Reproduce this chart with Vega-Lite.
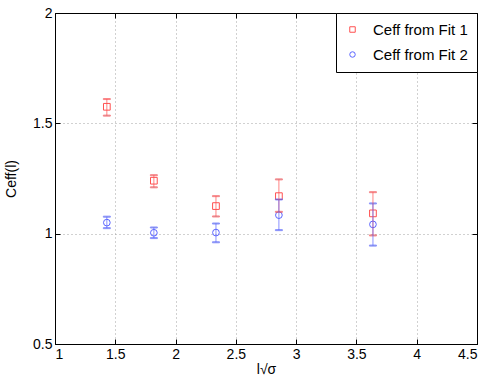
{
  "$schema": "https://vega.github.io/schema/vega-lite/v6.json",
  "width": 422,
  "height": 331,
  "autosize": {"type": "none"},
  "padding": {"left": 55, "top": 13, "right": 14, "bottom": 40},
  "config": {
    "font": "Liberation Sans",
    "view": {"stroke": "#000", "strokeWidth": 1},
    "axis": {
      "domainColor": "#000",
      "tickColor": "#000",
      "labelColor": "#000",
      "titleColor": "#000",
      "labelFontSize": 14,
      "titleFontSize": 14,
      "titleFontWeight": "normal",
      "gridColor": "#999",
      "gridDash": [1, 3],
      "gridOpacity": 0.9
    }
  },
  "data": {
    "values": [
      {"x": 1.43, "y": 1.575, "lo": 1.535, "hi": 1.61, "series": "Ceff from Fit 1"},
      {"x": 1.82, "y": 1.24, "lo": 1.21, "hi": 1.265, "series": "Ceff from Fit 1"},
      {"x": 2.335, "y": 1.125, "lo": 1.078, "hi": 1.17, "series": "Ceff from Fit 1"},
      {"x": 2.857, "y": 1.17, "lo": 1.099, "hi": 1.246, "series": "Ceff from Fit 1"},
      {"x": 3.637, "y": 1.092, "lo": 0.992, "hi": 1.188, "series": "Ceff from Fit 1"},
      {"x": 1.43, "y": 1.05, "lo": 1.025, "hi": 1.077, "series": "Ceff from Fit 2"},
      {"x": 1.82, "y": 1.004, "lo": 0.98, "hi": 1.028, "series": "Ceff from Fit 2"},
      {"x": 2.335, "y": 1.005, "lo": 0.961, "hi": 1.046, "series": "Ceff from Fit 2"},
      {"x": 2.857, "y": 1.084, "lo": 1.016, "hi": 1.155, "series": "Ceff from Fit 2"},
      {"x": 3.637, "y": 1.042, "lo": 0.946, "hi": 1.137, "series": "Ceff from Fit 2"}
    ]
  },
  "layer": [
    {
      "mark": {"type": "point", "filled": false, "strokeWidth": 1, "opacity": 1, "size": 45},
      "encoding": {
        "x": {"field": "x", "type": "quantitative", "scale": {"domain": [1, 4.5], "nice": false},
          "axis": {"orient": "bottom", "title": "l√σ", "values": [1, 1.5, 2, 2.5, 3, 3.5, 4, 4.5], "format": "~g", "tickSize": -5, "tickColor": "#000", "labelPadding": 8, "titlePadding": 1, "grid": true}},
        "y": {"field": "y", "type": "quantitative", "scale": {"domain": [0.5, 2], "nice": false},
          "axis": {"orient": "left", "title": "Ceff(l)", "values": [0.5, 1, 1.5, 2], "format": "~g", "tickSize": -5, "tickColor": "#000", "labelPadding": 8, "titlePadding": 14, "grid": true}},
        "color": {"field": "series", "type": "nominal", "scale": {"domain": ["Ceff from Fit 1", "Ceff from Fit 2"], "range": ["#ff5050", "#5a64ff"]},
          "legend": {"orient": "top-right", "offset": 0, "title": null, "strokeColor": "#000", "fillColor": "#fff", "padding": 9, "labelFontSize": 15, "labelColor": "#000", "symbolSize": 30, "symbolStrokeWidth": 1, "rowPadding": 9, "labelOffset": 13}},
        "shape": {"field": "series", "type": "nominal", "scale": {"domain": ["Ceff from Fit 1", "Ceff from Fit 2"], "range": ["square", "circle"]}}
      }
    },
    {
      "mark": {"type": "errorbar", "ticks": {"size": 7}, "thickness": 1, "opacity": 0.7},
      "encoding": {
        "x": {"field": "x", "type": "quantitative", "axis": null},
        "y": {"field": "lo", "type": "quantitative", "axis": null},
        "y2": {"field": "hi"},
        "stroke": {"field": "series", "type": "nominal", "scale": {"domain": ["Ceff from Fit 1", "Ceff from Fit 2"], "range": ["#ff5050", "#5a64ff"]}, "legend": null}
      }
    },
    {
      "mark": {"type": "point", "opacity": 0},
      "encoding": {
        "x": {"field": "x", "type": "quantitative", "axis": {"orient": "top", "labels": false, "title": null, "grid": false, "tickSize": -5, "tickColor": "#000", "values": [1, 1.5, 2, 2.5, 3, 3.5, 4, 4.5]}},
        "y": {"field": "y", "type": "quantitative", "axis": {"orient": "right", "labels": false, "title": null, "grid": false, "tickSize": -5, "tickColor": "#000", "values": [0.5, 1, 1.5, 2]}}
      }
    }
  ],
  "resolve": {"axis": {"x": "independent", "y": "independent"}}
}
